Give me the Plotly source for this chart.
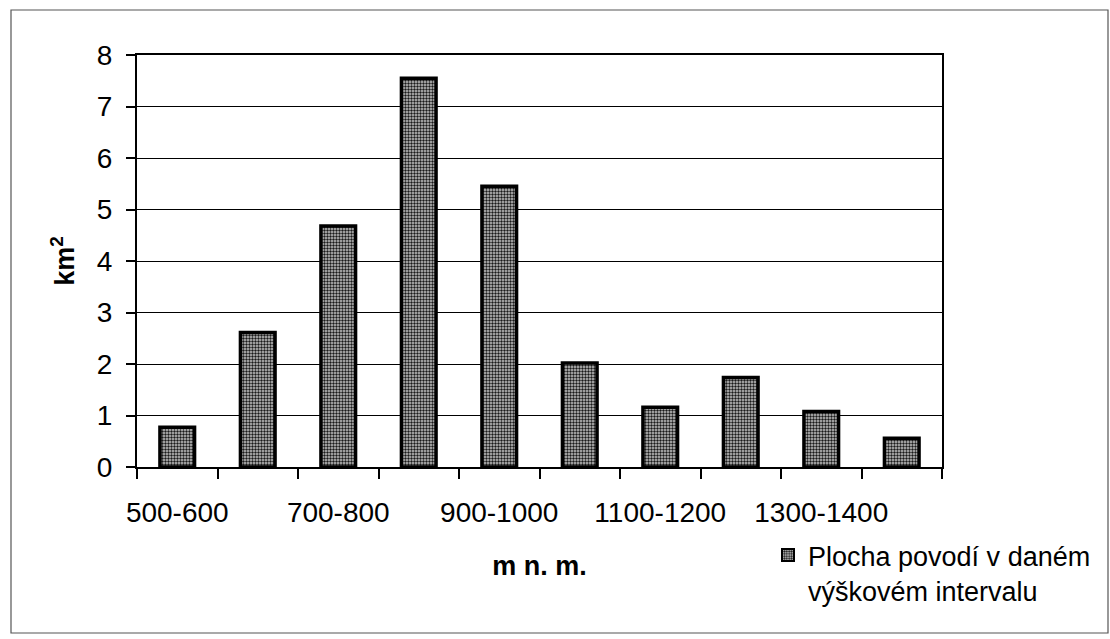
import plotly.graph_objects as go

# Altitude bands (m n. m.) and basin area in each band (km²)
bands = ["500-600", "600-700", "700-800", "800-900", "900-1000",
         "1000-1100", "1100-1200", "1200-1300", "1300-1400", "1400-1500"]
area_km2 = [0.77, 2.61, 4.68, 7.55, 5.45, 2.02, 1.16, 1.74, 1.08, 0.56]
# every other band is labelled on the axis
shown_labels = [b if i % 2 == 0 else "" for i, b in enumerate(bands)]
y_ticks = [0, 1, 2, 3, 4, 5, 6, 7, 8]

FONT = "Liberation Sans, Arial, sans-serif"

fig = go.Figure()
fig.add_trace(go.Bar(
    x=bands,
    y=area_km2,
    name="Plocha povodí v daném<br>výškovém intervalu",
    width=0.43,
    marker=dict(
        color="#a0a0a0",
        line=dict(color="black", width=3.5),
        pattern=dict(shape=".", fgcolor="#1a1a1a", bgcolor="#c8c8c8",
                     size=3, solidity=0.5, fillmode="replace"),
    ),
    showlegend=True,
))

W, H = 1110, 639
L, R, T, B = 137, 168, 55, 172
pw, ph = W - L - R, H - T - B


def px_x(p):
    return (p - L) / pw


def px_y(p):
    return (H - B - p) / ph


fig.update_layout(
    width=W, height=H,
    margin=dict(l=L, r=R, t=T, b=B),
    paper_bgcolor="white",
    plot_bgcolor="white",
    font=dict(family=FONT, size=28, color="black"),
    xaxis=dict(
        type="category",
        tickmode="array",
        tickvals=bands,
        ticktext=shown_labels,
        tickson="boundaries",
        tickangle=0,
        ticks="outside",
        ticklen=10,
        tickwidth=1.5,
        tickcolor="black",
        ticklabelstandoff=19,
        showline=True,
        linecolor="black",
        linewidth=2,
        mirror=True,
        showgrid=False,
        tickfont=dict(size=28),
        title=dict(text="<b>m n. m.</b>", font=dict(size=27), standoff=30),
        range=[-0.5, 9.5],
    ),
    yaxis=dict(
        range=[0, 8],
        tickmode="array",
        tickvals=y_ticks,
        ticks="outside",
        ticklen=9,
        tickwidth=1.5,
        tickcolor="black",
        ticklabelstandoff=8,
        showline=True,
        linecolor="black",
        linewidth=2,
        mirror=True,
        showgrid=True,
        gridcolor="black",
        gridwidth=1.3,
        zeroline=False,
        tickfont=dict(size=28),
        title=dict(text="<b>km<sup>2</sup></b>", font=dict(size=27), standoff=14),
    ),
    legend=dict(
        x=px_x(768),
        y=px_y(531),
        xanchor="left",
        yanchor="top",
        valign="top",
        bgcolor="rgba(0,0,0,0)",
        font=dict(size=27),
        itemsizing="constant",
    ),
    shapes=[dict(
        type="rect", xref="paper", yref="paper",
        x0=px_x(11), x1=px_x(1108), y0=px_y(10), y1=px_y(633),
        line=dict(color="#555555", width=1.2),
        fillcolor="rgba(0,0,0,0)", layer="below",
    )],
)

fig.write_html("out.html")
